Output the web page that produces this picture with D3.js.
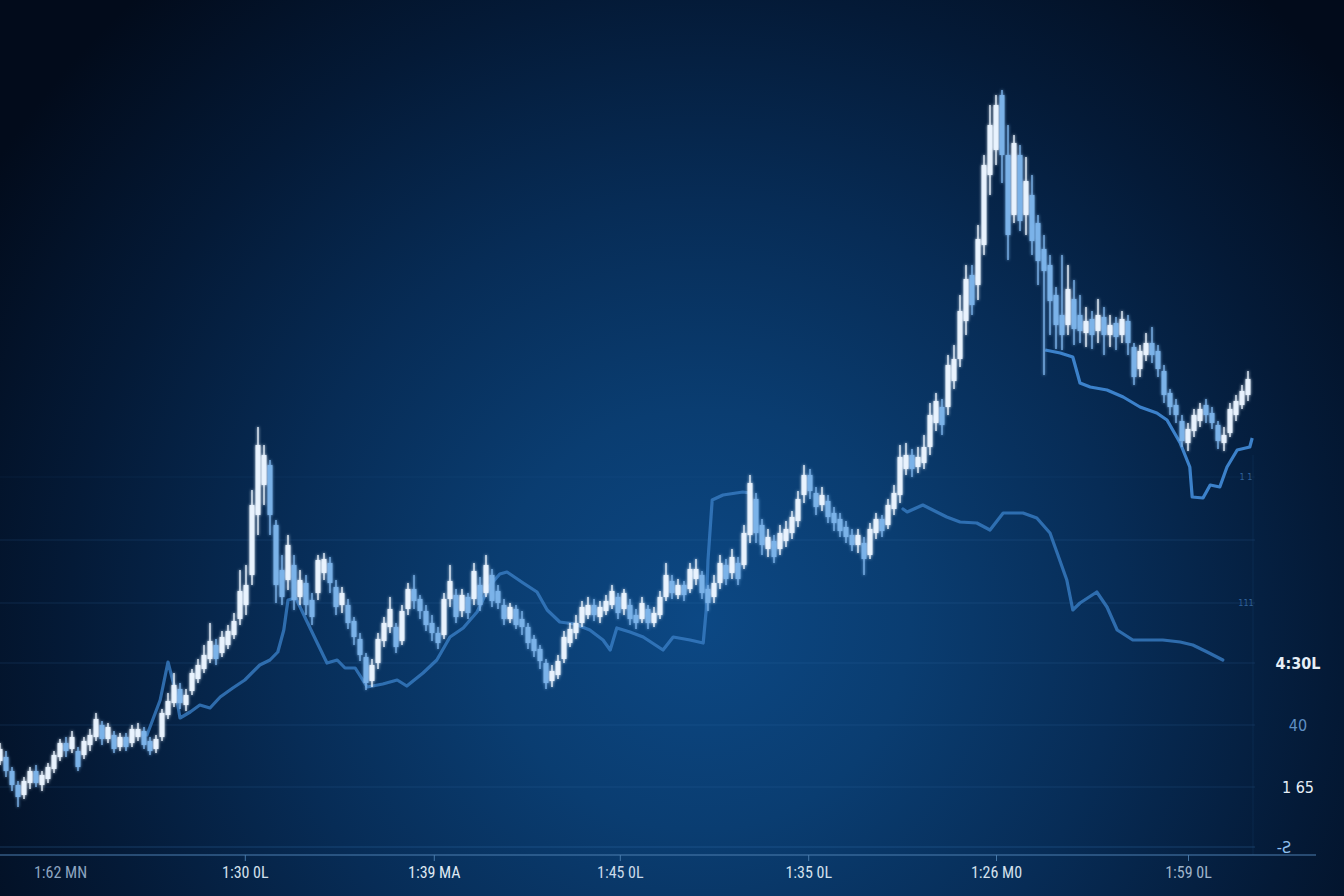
<!DOCTYPE html>
<html><head><meta charset="utf-8">
<script src="https://cdn.jsdelivr.net/npm/d3@7"></script>
<style>html,body{margin:0;padding:0;background:#031529;overflow:hidden}svg{display:block}</style>
</head><body>
<svg id="chart" width="1344" height="896"></svg>
<script>
// ---- Data ----
const opens = [94,98,84,70,60,72,84,70,76,86,
98,112,106,104,100,110,118,130,116,120,
108,118,112,118,124,114,106,118,140,152,
166,150,164,176,186,196,210,202,210,220,
236,250,280,340,370,390,330,285,275,290,
258,272,255,262,282,292,268,250,250,234,
216,198,174,192,214,228,228,214,246,266,
256,244,232,222,220,256,260,244,258,256,
270,262,280,264,250,236,246,236,228,216,
206,192,174,180,196,212,222,232,240,250,
238,244,250,258,246,250,240,236,246,232,
240,258,274,260,270,266,276,280,266,258,
272,290,282,292,290,320,356,330,306,314,
306,314,322,334,360,380,362,350,354,342,
336,328,320,310,312,300,322,336,330,346,
360,386,400,388,392,408,432,448,448,474,
496,534,580,570,610,680,705,760,700,640,
700,640,660,632,606,590,560,540,530,556,
540,522,536,524,538,520,532,520,534,508,
486,500,512,504,484,462,450,434,412,424,
434,450,442,430,412,422,440,450,460];
const closes = [106,84,70,58,74,84,72,80,88,100,
112,104,118,88,114,120,136,116,128,106,
118,108,126,126,110,104,116,142,154,170,
152,160,182,190,200,214,196,218,224,234,
264,270,350,410,400,340,270,258,310,255,
275,250,238,295,296,272,248,262,232,218,
200,172,190,216,232,246,208,244,266,254,
244,230,222,212,256,274,238,260,242,284,
250,290,254,252,236,248,230,228,212,204,
194,172,184,194,218,226,232,248,250,240,
248,254,264,242,262,236,232,252,232,242,
258,280,262,270,260,286,286,262,252,272,
292,276,298,276,322,372,322,310,318,298,
322,326,338,356,380,364,348,360,338,332,
324,318,310,320,296,326,336,324,350,362,
398,400,386,398,408,440,454,430,490,496,
544,576,550,616,690,730,750,700,620,712,
634,674,614,594,584,554,530,520,566,526,
524,534,520,540,520,530,518,536,512,478,
504,512,500,486,460,448,440,414,426,440,
446,440,432,414,420,446,454,464,476];
const highs = [112,104,88,74,78,88,90,84,92,104,
116,118,124,108,118,126,142,134,132,124,
122,122,130,132,128,118,120,146,162,182,
172,166,186,196,210,232,216,224,230,242,
285,290,365,428,410,395,335,300,320,300,
285,280,262,300,302,298,275,268,256,238,
222,202,196,222,238,258,232,250,272,280,
260,250,240,228,262,290,266,266,262,292,
278,300,286,270,256,252,250,244,232,220,
210,196,190,200,224,232,240,254,258,256,
254,260,270,262,266,256,246,258,250,248,
264,292,280,276,274,292,296,284,270,280,
300,296,306,298,330,380,362,336,326,320,
330,334,344,364,390,386,368,368,360,348,
342,334,326,326,318,332,342,340,356,370,
410,412,406,408,420,452,462,456,500,510,
560,590,590,630,700,750,760,765,730,720,
710,698,680,640,620,600,568,600,590,575,
560,548,544,556,548,540,538,544,540,512,
510,522,528,510,490,466,456,440,432,446,
452,456,448,434,428,452,460,470,484];
const lows = [90,78,64,48,56,66,68,64,72,82,
94,98,102,84,96,104,114,110,112,102,
104,104,108,114,106,100,102,114,136,148,
146,144,160,172,182,192,190,198,206,216,
230,240,270,320,350,320,252,250,265,245,
250,240,230,255,275,262,240,242,226,210,
194,165,168,186,208,222,202,210,240,246,
236,224,214,206,216,248,232,238,236,250,
244,258,248,246,230,232,226,220,206,198,
186,166,168,176,192,208,216,228,236,234,
232,240,246,236,240,230,226,232,226,228,
236,254,256,256,254,262,270,256,244,252,
266,270,276,270,286,312,312,300,298,292,
300,308,316,328,352,356,340,344,332,324,
318,312,304,302,280,296,316,318,326,340,
352,380,378,382,386,400,424,420,440,466,
488,520,540,555,600,660,690,672,595,632,
624,620,600,570,480,520,506,505,520,510,
512,508,506,512,500,508,505,512,500,470,
478,494,492,478,452,440,432,408,404,418,
428,432,426,406,404,418,434,446,454];

// Lower moving line (time index, value); null marks where it disappears behind the candles
const lineA_t = [24.5,26.7,28,29.2,30,31.7,33.3,35,36.7,38.8,40.8,43.3,45,46.3,47.3,48,49.3,50.8,52.8,54.5,
56.2,57.5,59.2,61.2,63.8,66.2,67.8,70.5,72.8,75,77.2,79.5,81.7,83.3,84.5,87.2,89.5,91.2,93.3,95.8,
98.3,100.5,101.7,102.8,105,107.2,110.5,112.2,115,117.2,117.7,118,118.7,120.5,123.8,125,148,150.5,
151.2,153.8,157.8,160,162.8,165,167.2,170.5,172.8,175,176.2,177.8,178.8,180,182.8,184.5,186.2,188.8,193.8,196.7,198.8,201.2,203.8];
const lineA_v = [120,155,193,165,137,143,150,147,158,167,175,190,195,203,225,255,257,238,213,192,
195,187,187,168,171,175,169,182,195,218,227,243,270,281,283,272,263,245,233,231,
225,215,205,227,223,218,205,218,215,212,245,295,355,360,363,362,null,346,
343,350,338,333,332,325,342,342,337,322,302,275,245,252,263,248,225,215,215,213,210,203,195];
// Upper right line
const lineB_t = [174.2,176.7,178.8,180,181.7,184.5,187.2,190,192.8,194.5,196.7,198.3,198.7,200.5,201.7,203.3,204.5,206.2,208.3,208.7];
const lineB_v = [505,502,498,472,468,465,458,448,442,435,412,388,358,357,370,368,388,405,408,417];

const gridValues = [8,68,130,192,252,315,378];
const xTickT = [10,40.8,72.3,103.3,134.7,166,198];
const xTickLabels = ["1:62 MN","1:30 0L","1:39 MA","1:45 0L","1:35 0L","1:26 M0","1:59 0L"];
const xTickColors = ["#8da5c0","#d4e0ec","#dfe8f2","#cbd9e8","#d4e0ec","#d4e0ec","#9fb3c9"];
const rightValues = [378,252,192,130,68,8];
const rightLabels = ["1 1","111","4:30L","40","1 65","-Ƨ"];

// ---- Drawing ----
const svg = d3.select("#chart");
const W = 1344, H = 896;
const x = d3.scaleLinear().domain([0,208]).range([0,1248]);
const y = d3.scaleLinear().domain([0,800]).range([855,55]);

const defs = svg.append("defs");
const rg = defs.append("radialGradient").attr("id","bg").attr("gradientUnits","userSpaceOnUse")
  .attr("cx",700).attr("cy",620).attr("r",840);
[[0,"#0c4884"],[0.25,"#0a3d71"],[0.5,"#072c56"],[0.75,"#041a37"],[1,"#020b1b"]]
  .forEach(([o,c])=>rg.append("stop").attr("offset",o).attr("stop-color",c));
const glow = defs.append("filter").attr("id","glow").attr("x","-20%").attr("y","-20%").attr("width","140%").attr("height","140%");
glow.append("feGaussianBlur").attr("in","SourceGraphic").attr("stdDeviation",1.6).attr("result","b");
const fm = glow.append("feMerge"); fm.append("feMergeNode").attr("in","b"); fm.append("feMergeNode").attr("in","SourceGraphic");
const soft = defs.append("filter").attr("id","soft");
soft.append("feGaussianBlur").attr("stdDeviation",0.7);

svg.append("rect").attr("width",W).attr("height",H).attr("fill","url(#bg)");

// gridlines
svg.append("g").selectAll("line").data(gridValues).join("line")
  .attr("x1",0).attr("x2",1255)
  .attr("y1",d=>y(d)).attr("y2",d=>y(d))
  .attr("stroke","#3a78b8").attr("stroke-opacity",(d,i)=>i===0?0.35:(i===6?0.1:0.2)).attr("stroke-width",1);
svg.append("line").attr("x1",1253).attr("x2",1253).attr("y1",y(400)).attr("y2",y(0))
  .attr("stroke","#3a78b8").attr("stroke-opacity",0.12);

// lines
const lineGen = d3.line().defined(d=>d[1]!==null).x(d=>x(d[0])).y(d=>y(d[1]));
const ptsA = lineA_t.map((t,i)=>[t,lineA_v[i]]);
const ptsB = lineB_t.map((t,i)=>[t,lineB_v[i]]);
svg.append("path").attr("d",lineGen(ptsA)).attr("fill","none")
  .attr("stroke","#3a7dc4").attr("stroke-width",3.2).attr("stroke-opacity",0.8)
  .attr("stroke-linejoin","round").attr("stroke-linecap","round").attr("filter","url(#soft)");
svg.append("path").attr("d",lineGen(ptsB)).attr("fill","none")
  .attr("stroke","#3f87d2").attr("stroke-width",3.2).attr("stroke-opacity",0.95)
  .attr("stroke-linejoin","round").attr("filter","url(#soft)");

// candles
const idx = d3.range(opens.length);
const cg = svg.append("g").attr("filter","url(#glow)");
const col = i => closes[i] >= opens[i] ? "#eaf4ff" : "#7db4ea";
cg.selectAll("line").data(idx).join("line")
  .attr("x1",i=>x(i)).attr("x2",i=>x(i))
  .attr("y1",i=>y(highs[i])).attr("y2",i=>y(lows[i]))
  .attr("stroke",col).attr("stroke-width",1.5).attr("stroke-opacity",0.9);
cg.selectAll("rect").data(idx).join("rect")
  .attr("x",i=>x(i)-2.5).attr("width",5)
  .attr("y",i=>y(Math.max(opens[i],closes[i])))
  .attr("height",i=>Math.max(1.5,Math.abs(y(opens[i])-y(closes[i]))))
  .attr("fill",col).attr("fill-opacity",0.92);

// x axis
svg.append("line").attr("x1",0).attr("x2",1316).attr("y1",855).attr("y2",855)
  .attr("stroke","#4d7fb0").attr("stroke-width",1.2);
const ax = d3.axisBottom(x).tickValues(xTickT).tickFormat((d,i)=>xTickLabels[i]).tickSize(6).tickPadding(6);
const axg = svg.append("g").attr("transform","translate(0,855)").call(ax);
axg.select(".domain").remove();
axg.selectAll(".tick line").attr("stroke","#4d7fb0").attr("stroke-opacity",(d,i)=>i===0?0:0.9);
axg.selectAll(".tick text")
  .attr("font-family","'Liberation Sans Narrow','Roboto Condensed','DejaVu Sans Condensed',sans-serif")
  .attr("font-size",16).attr("fill",(d,i)=>xTickColors[i]);

// right labels
const rl = svg.append("g");
rightValues.forEach((v,i)=>{
  const small = i<2;
  rl.append("text")
    .attr("x", small ? 1246 : (i===5 ? 1284 : 1298))
    .attr("y", y(v))
    .attr("dy","0.35em")
    .attr("text-anchor","middle")
    .attr("font-family","'Liberation Sans Narrow','DejaVu Sans Condensed',sans-serif")
    .attr("font-size", small ? 9 : 16)
    .attr("font-weight", i===2 ? "bold" : "normal")
    .attr("fill", small ? "#2f6098" : (i===3 ? "#5f8fc4" : (i===5 ? "#8fc0ee" : "#e6eef6")))
    .text(rightLabels[i]);
});
</script>
</body></html>
